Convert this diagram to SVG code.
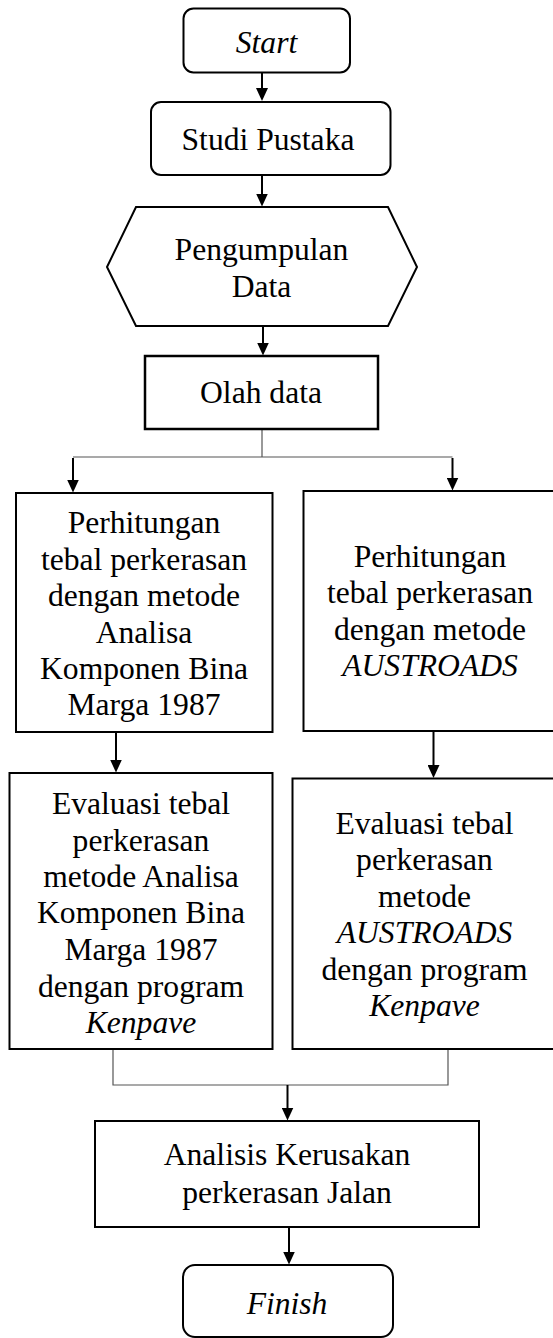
<svg xmlns="http://www.w3.org/2000/svg" width="553" height="1338" viewBox="0 0 553 1338">
<style>
.box{fill:#fff;stroke:#000;stroke-width:2}
.t{font-family:"Liberation Serif","Times New Roman",serif;font-size:31.6px;fill:#000;text-anchor:middle}
.i{font-style:italic}
.arr{stroke:#000;stroke-width:2;fill:none;marker-end:url(#ah)}
.thin{stroke:#555;stroke-width:1.2;fill:none}
</style>
<defs>
<marker id="ah" markerUnits="userSpaceOnUse" markerWidth="13" markerHeight="12" viewBox="0 0 13 12" refX="0.5" refY="6" orient="auto">
<path d="M0,0 L13,6 L0,12 z" fill="#000"/>
</marker>
</defs>
<rect width="553" height="1338" fill="#fff"/>
<g id="connectors">
<line class="arr" x1="262" y1="73" x2="262" y2="88.5"/>
<line class="arr" x1="262" y1="175" x2="262" y2="194"/>
<line class="arr" x1="263" y1="326" x2="263" y2="343"/>
<polyline class="thin" points="262,429 262,457"/>
<line class="thin" x1="73" y1="457" x2="452.5" y2="457"/>
<line class="arr" x1="73" y1="458" x2="73" y2="480"/>
<line class="arr" x1="452.5" y1="458" x2="452.5" y2="478"/>
<line class="arr" x1="116" y1="732" x2="116" y2="760"/>
<line class="arr" x1="433.5" y1="731" x2="433.5" y2="765.5"/>
<polyline class="thin" points="113,1049 113,1085 448,1085 448,1049"/>
<line class="arr" x1="287.5" y1="1085" x2="287.5" y2="1108"/>
<line class="arr" x1="289" y1="1227" x2="289" y2="1252"/>
</g>
<g id="start">
<rect class="box" x="183.5" y="8.5" width="166.5" height="64" rx="10"/>
<text class="t i" x="266.5" y="53">Start</text>
</g>
<g id="studi">
<rect class="box" x="151" y="102" width="239.5" height="73" rx="10"/>
<text class="t" x="268" y="150">Studi Pustaka</text>
</g>
<g id="pengumpulan">
<polygon class="box" points="107,267 136,207 388,207 417,267 388,326 136,326"/>
<text class="t" x="261.5" y="260">Pengumpulan</text>
<text class="t" x="261.5" y="297">Data</text>
</g>
<g id="olah">
<rect class="box" x="145" y="356" width="233" height="73" style="stroke-width:2.5"/>
<text class="t" x="261" y="403">Olah data</text>
</g>
<g id="hitung-bm">
<rect class="box" x="16" y="493" width="256.5" height="239"/>
<text class="t" x="144" y="533">Perhitungan</text>
<text class="t" x="144" y="569.5">tebal perkerasan</text>
<text class="t" x="144" y="606">dengan metode</text>
<text class="t" x="144" y="642.5">Analisa</text>
<text class="t" x="144" y="679">Komponen Bina</text>
<text class="t" x="144" y="715">Marga 1987</text>
</g>
<g id="hitung-aus">
<rect class="box" x="303.5" y="491" width="252" height="240"/>
<text class="t" x="430" y="567">Perhitungan</text>
<text class="t" x="430" y="603">tebal perkerasan</text>
<text class="t" x="430" y="639.5">dengan metode</text>
<text class="t i" x="430" y="676">AUSTROADS</text>
</g>
<g id="eval-bm">
<rect class="box" x="9.5" y="773" width="263" height="276"/>
<text class="t" x="141" y="814">Evaluasi tebal</text>
<text class="t" x="141" y="850.5">perkerasan</text>
<text class="t" x="141" y="887">metode Analisa</text>
<text class="t" x="141" y="923">Komponen Bina</text>
<text class="t" x="141" y="960">Marga 1987</text>
<text class="t" x="141" y="996.5">dengan program</text>
<text class="t i" x="141" y="1032.5">Kenpave</text>
</g>
<g id="eval-aus">
<rect class="box" x="292.5" y="778.5" width="264" height="270.5"/>
<text class="t" x="424.5" y="834">Evaluasi tebal</text>
<text class="t" x="424.5" y="870">perkerasan</text>
<text class="t" x="424.5" y="906.5">metode</text>
<text class="t i" x="424.5" y="943">AUSTROADS</text>
<text class="t" x="424.5" y="979.5">dengan program</text>
<text class="t i" x="424.5" y="1016">Kenpave</text>
</g>
<g id="analisis">
<rect class="box" x="95" y="1121" width="384" height="106"/>
<text class="t" x="287" y="1165">Analisis Kerusakan</text>
<text class="t" x="287" y="1203">perkerasan Jalan</text>
</g>
<g id="finish">
<rect class="box" x="183" y="1265" width="210" height="72" rx="12"/>
<text class="t i" x="287" y="1314">Finish</text>
</g>
</svg>
